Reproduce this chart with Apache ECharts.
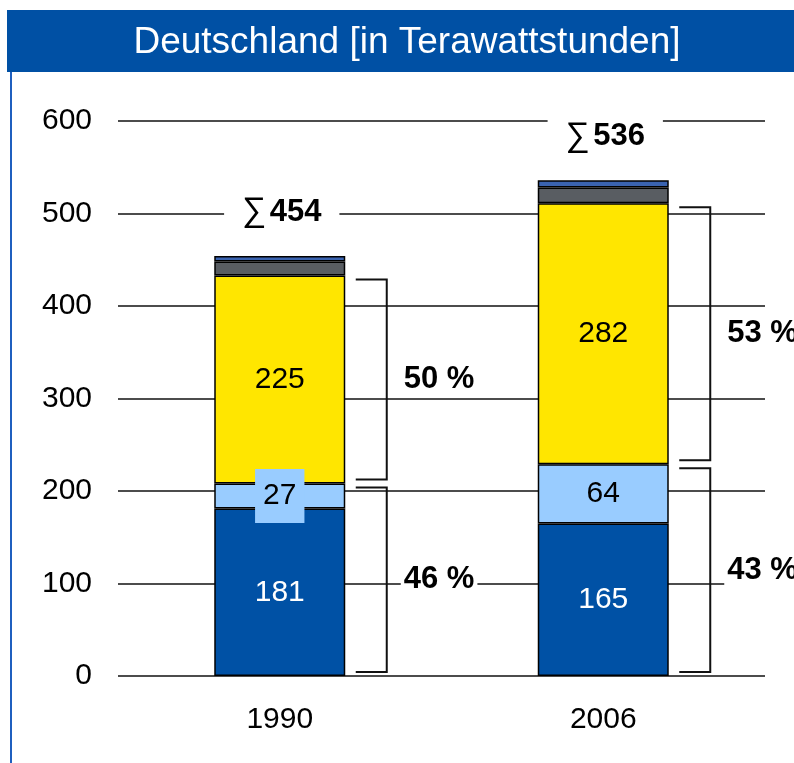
<!DOCTYPE html>
<html>
<head>
<meta charset="utf-8">
<script src="https://cdn.jsdelivr.net/npm/echarts@6/dist/echarts.min.js"></script>
<style>
html,body{margin:0;padding:0;background:#fff;}
#chart{width:794px;height:763px;}
</style>
</head>
<body>
<div id="chart"></div>
<script>
// ---- data ----
const categories = ['1990', '2006'];
const fossil = [181, 165];        // dark blue
const hydroOther = [27, 64];      // light blue
const nuclearCoal = [225, 282];   // yellow
const grey = [15, 17];            // dark grey
const topBlue = [6, 8];           // top blue
const totals = [454, 536];
const upperPct = ['50 %', '53 %'];
const lowerPct = ['46 %', '43 %'];
const yTicks = [0, 100, 200, 300, 400, 500, 600];

const FONT = '"Liberation Sans", Arial, sans-serif';
const FS = 30;

const chart = echarts.init(document.getElementById('chart'), null, {renderer: 'canvas'});

function seg(name, values, color, labelColor, showLabel, boxIdx) {
  return {
    name: name, type: 'bar', stack: 'total', barWidth: 131,
    itemStyle: {color: color, borderColor: '#000', borderWidth: 1.5},
    label: {show: showLabel, position: 'inside', color: labelColor, fontSize: FS, fontFamily: FONT},
    data: values.map((v, i) => {
      if (boxIdx === i) {
        return {value: v, label: {backgroundColor: color, padding: [12, 8, 12, 8]}};
      }
      return v;
    }),
    z: 2
  };
}

const bracketData = categories.map((c, i) => {
  const low = fossil[i] + hydroOther[i];
  const high = low + nuclearCoal[i];
  return [i, 0, low, high];
});

const option = {
  animation: false,
  backgroundColor: '#fff',
  grid: {left: 118, right: 29, top: 121, bottom: 87},
  xAxis: {
    type: 'category', data: categories,
    axisLine: {show: false}, axisTick: {show: false},
    axisLabel: {fontSize: FS, color: '#000', fontFamily: FONT, margin: 29}
  },
  yAxis: {
    type: 'value', min: 0, max: 600, interval: 100,
    axisLine: {show: false}, axisTick: {show: false},
    axisLabel: {fontSize: FS, color: '#000', fontFamily: FONT, margin: 26,
      formatter: v => yTicks.indexOf(v) >= 0 ? String(v) : ''},
    splitLine: {lineStyle: {color: '#111', width: 1.5}}
  },
  graphic: [
    {type: 'rect', left: 7, top: 10, shape: {width: 800, height: 62}, style: {fill: '#0050A4'}, z: 10},
    {type: 'text', x: 407, y: 43, style: {text: 'Deutschland [in Terawattstunden]', fill: '#fff',
      font: '37px ' + FONT, textAlign: 'center', textVerticalAlign: 'middle'}, z: 11},
    {type: 'line', shape: {x1: 11, y1: 72, x2: 11, y2: 763}, style: {stroke: '#1F5FBF', lineWidth: 2}, z: 10}
  ],
  series: [
    seg('A', fossil, '#0051A5', '#fff', true),
    seg('B', hydroOther, '#99CCFF', '#000', true, 0),
    seg('C', nuclearCoal, '#FFE600', '#000', true),
    seg('D', grey, '#595D62', '#000', false),
    seg('E', topBlue, '#3A63B0', '#000', false),
    {
      type: 'custom', z: 5,
      data: bracketData,
      renderItem: function (params, api) {
        const i = api.value(0);
        const v0 = api.value(1), v1 = api.value(2), v2 = api.value(3);
        const cx = api.coord([i, 0])[0];
        const right = cx + 65;
        const x0 = right + 11, x1 = right + 42;
        const children = [];
        const ranges = [[v0, v1, lowerPct[i]], [v1, v2, upperPct[i]]];
        ranges.forEach(r => {
          const yLow = api.coord([i, r[0]])[1] - 4;
          const yHigh = api.coord([i, r[1]])[1] + 4;
          children.push({
            type: 'polyline',
            shape: {points: [[x0, yHigh], [x1, yHigh], [x1, yLow], [x0, yLow]]},
            style: {stroke: '#111', lineWidth: 2, fill: null}
          });
          const ym = api.coord([i, (r[0] + r[1]) / 2])[1];
          children.push({
            type: 'text',
            x: x1 + 14, y: ym,
            style: {text: r[2], fill: '#000', font: 'bold 31px ' + FONT,
              textAlign: 'left', textVerticalAlign: 'middle',
              backgroundColor: '#fff', padding: [2, 3, 2, 3]}
          });
        });
        return {type: 'group', children: children};
      }
    },
    {
      type: 'custom', z: 5,
      data: totals.map((t, i) => [i, t]),
      renderItem: function (params, api) {
        const i = api.value(0);
        const p = api.coord([i, api.value(1)]);
        return {
          type: 'text', x: p[0] + 2, y: p[1] - 44,
          style: {
            text: '{s|∑} {b|' + totals[i] + '}',
            rich: {
              s: {font: '34px ' + FONT, fill: '#000'},
              b: {font: 'bold 31px ' + FONT, fill: '#000'}
            },
            textAlign: 'center', textVerticalAlign: 'middle',
            backgroundColor: '#fff', padding: [4, 18, 4, 18]
          }
        };
      }
    }
  ]
};
chart.setOption(option);
</script>
</body>
</html>
